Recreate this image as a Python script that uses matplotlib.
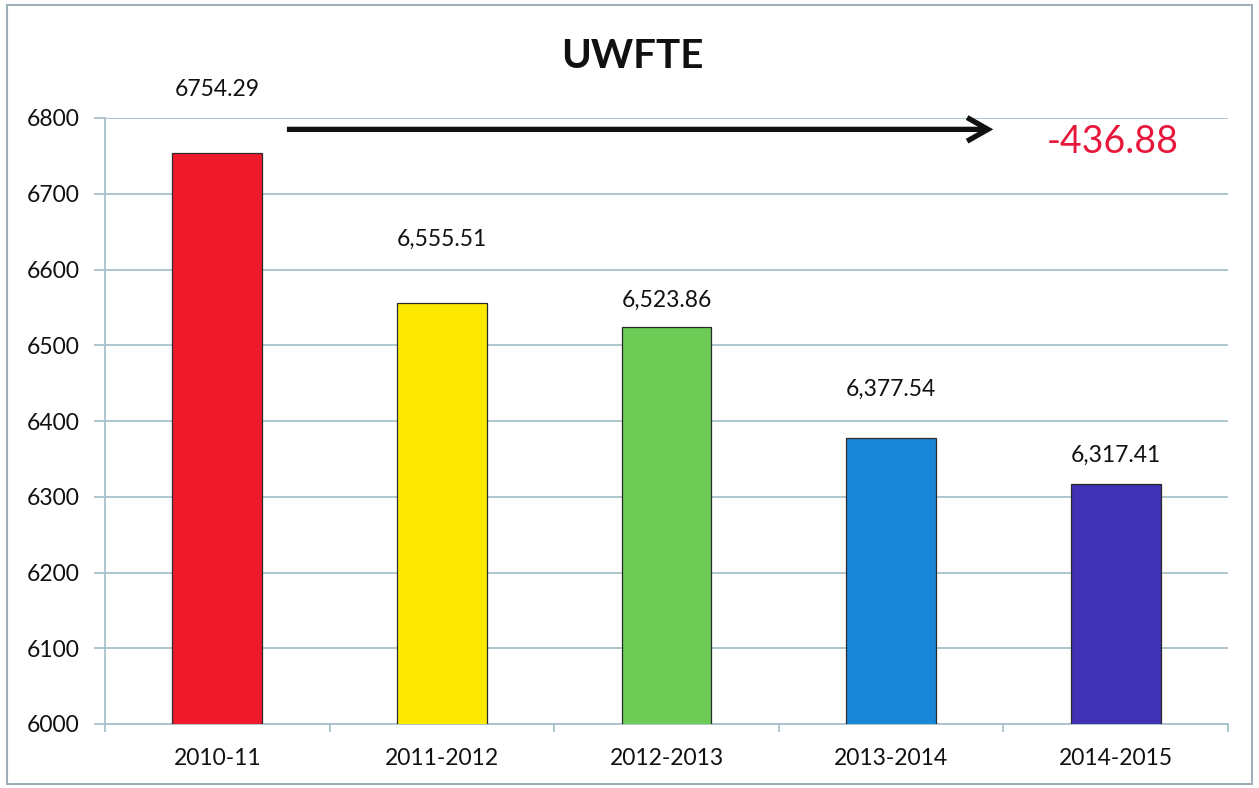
import matplotlib
matplotlib.use("Agg")
import matplotlib.pyplot as plt
from matplotlib.patches import Rectangle

categories = ["2010-11", "2011-2012", "2012-2013", "2013-2014", "2014-2015"]
values = [6754.29, 6555.51, 6523.86, 6377.54, 6317.41]
value_labels = ["6754.29", "6,555.51", "6,523.86", "6,377.54", "6,317.41"]
bar_colors = ["#EE1A2C", "#FDE900", "#6BCB55", "#1A86D8", "#4131B4"]
label_offsets_px = [63, 64, 27, 49, 28]
y_ticks = [6000, 6100, 6200, 6300, 6400, 6500, 6600, 6700, 6800]
change_text = "-436.88"
title_text = "UWFTE"

plt.rcParams['font.family'] = ['Lato', 'DejaVu Sans']
W, H = 1259, 788
fig = plt.figure(figsize=(W / 100, H / 100), dpi=100)
fig.patch.set_facecolor("white")

# outer border
fig.patches.append(Rectangle((7 / W, 4 / H), (1252 - 7) / W, (783 - 4) / H,
                             transform=fig.transFigure, fill=False,
                             edgecolor="#9FB0B8", linewidth=1.5))

ax = fig.add_axes([105 / W, (H - 724) / H, 1123 / W, 606 / H])
x = list(range(len(categories)))
ax.bar(x, values, width=0.4, color=bar_colors, edgecolor="#2a2a2a",
       linewidth=0.9, zorder=3, bottom=0)
ax.set_xlim(-0.5, len(categories) - 0.5)
ax.set_ylim(6000, 6800)
ax.set_yticks(y_ticks)
ax.set_yticklabels([str(t) for t in y_ticks], fontsize=16.5, color="#111111")
ax.yaxis.grid(True, color="#A9C1CC", linewidth=1.3, zorder=0)
ax.set_axisbelow(True)

ax.set_xticks(x)
ax.set_xticklabels(categories, fontsize=16.5, color="#111111")
ax.tick_params(axis="x", length=0, pad=17)
ax.set_xticks([i - 0.5 for i in range(len(categories) + 1)], minor=True)
ax.tick_params(axis="x", which="minor", length=6, color="#A9C1CC", width=1.3)
ax.tick_params(axis="y", length=8, color="#A9C1CC", width=1.3, pad=10)

for s in ["top", "right"]:
    ax.spines[s].set_visible(False)
for s in ["left", "bottom"]:
    ax.spines[s].set_color("#A9C1CC")
    ax.spines[s].set_linewidth(1.3)

for xi, v, lab, off in zip(x, values, value_labels, label_offsets_px):
    ax.annotate(lab, (xi, v), xytext=(0, off * 0.72), textcoords="offset points",
                ha="center", va="center", fontsize=16.5, color="#111111",
                annotation_clip=False)

# arrow
ax.annotate("", xy=(3.455, 6785), xytext=(0.31, 6785),
            arrowprops=dict(arrowstyle="->,head_length=1.5,head_width=0.85",
                            mutation_scale=10, color="#111111", lw=3.8,
                            shrinkA=0, shrinkB=0, capstyle="butt",
                            joinstyle="miter"),
            annotation_clip=False)

ax.text(1113 / W, 1 - 142 / H, change_text, transform=fig.transFigure,
        ha="center", va="center", fontsize=27, color="#E8173C")

fig.text(632 / W, 1 - 56 / H, title_text, ha="center", va="center",
         fontsize=29, fontweight="bold", color="#111111")

fig.savefig("out.png", dpi=100, facecolor="white")
